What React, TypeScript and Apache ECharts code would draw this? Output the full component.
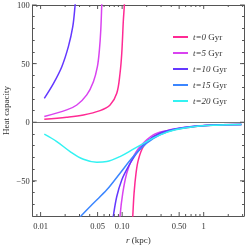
import React, { useEffect, useRef } from "react";
import * as echarts from "echarts";

const seriesNames = ["t=0 Gyr", "t=5 Gyr", "t=10 Gyr", "t=15 Gyr", "t=20 Gyr"];
const seriesColors = ["#FF2A94", "#D943F0", "#6438FF", "#3B86FF", "#33F2F2"];

// t = 0 Gyr
const t0PosR = [0.0111, 0.0209, 0.0335, 0.0536, 0.0711, 0.0859, 0.0942, 0.0989, 0.1035, 0.1064, 0.108];
const t0PosC = [2.6, 4.3, 6.2, 9.9, 14.7, 24.7, 41.8, 58.8, 87.2, 100, 115];
const t0NegR = [0.131, 0.135, 0.14, 0.148, 0.158, 0.182, 0.241, 0.352, 0.562, 0.901, 1.44, 2.9];
const t0NegC = [-95, -79.9, -60.5, -43.5, -32.1, -20.8, -12.3, -8.0, -5.1, -3.2, -2.3, -2.0];

// t = 5 Gyr
const t5PosR = [0.0111, 0.0209, 0.0278, 0.0368, 0.0444, 0.0497, 0.0526, 0.0547, 0.0562, 0.0575];
const t5PosC = [4.8, 10.5, 14.7, 23.3, 34.6, 47.4, 61.6, 78.7, 100, 120];
const t5NegR = [0.092, 0.0942, 0.1017, 0.1138, 0.131, 0.166, 0.241, 0.352, 0.562, 0.901, 1.44, 2.9];
const t5NegC = [-95, -80, -60.5, -43.5, -32.1, -20.8, -10.8, -7.2, -4.6, -3.0, -2.3, -2.0];

// t = 10 Gyr
const t10PosR = [0.0111, 0.0144, 0.0182, 0.0219, 0.0248, 0.0265, 0.0272];
const t10PosC = [20.4, 33.2, 47.4, 64.5, 81.5, 100, 110];
const t10NegR = [0.075, 0.078, 0.0859, 0.0989, 0.119, 0.151, 0.2, 0.291, 0.45, 0.8, 1.44, 2.9];
const t10NegC = [-90, -80, -63.4, -49.2, -37.9, -26.4, -16.5, -9.4, -5.8, -3.4, -2.3, -2.0];

// t = 15 Gyr
const t15R = [0.03, 0.0313, 0.0444, 0.0648, 0.0942, 0.137, 0.2, 0.291, 0.45, 0.8, 1.44, 2.9];
const t15C = [-82, -80, -69.1, -57.7, -43.5, -29.3, -17.9, -10.8, -6.0, -3.4, -2.3, -2.0];

// t = 20 Gyr
const t20R = [0.0111, 0.0158, 0.023, 0.0335, 0.0488, 0.0648, 0.094, 0.137, 0.2, 0.291, 0.45, 0.8, 1.44, 2.9];
const t20C = [-10.2, -16.5, -25, -31.6, -34.1, -33.6, -29.3, -23, -16.5, -10.8, -6.5, -3.6, -2.5, -2.0];

const xMajorTicks = [0.01, 0.05, 0.1, 0.5, 1];
const xMajorLabels = ["0.01", "0.05", "0.10", "0.50", "1"];
const xMinorTicks = [0.009, 0.02, 0.03, 0.04, 0.06, 0.07, 0.08, 0.09, 0.2, 0.3, 0.4, 0.6, 0.7, 0.8, 0.9, 2, 3];
const yMajorTicks = [100, 50, 0, -50];

const SERIF = "Liberation Serif";
const AXIS_COLOR = "#555";
const LABEL_COLOR = "#333";

function pairs(r: number[], c: number[]) {
  return r.map((v, i) => [v, c[i]]);
}

export default function App() {
  const ref = useRef<HTMLDivElement>(null);
  useEffect(() => {
    if (!ref.current) return;
    const chart = echarts.init(ref.current, null, { renderer: "svg" });
    const branches: [number, number[], number[]][] = [
      [0, t0PosR, t0PosC], [0, t0NegR, t0NegC],
      [1, t5PosR, t5PosC], [1, t5NegR, t5NegC],
      [2, t10PosR, t10PosC], [2, t10NegR, t10NegC],
      [3, t15R, t15C],
      [4, t20R, t20C],
    ];
    const series: any[] = branches.map(([k, r, c]) => ({
      type: "line",
      name: seriesNames[k],
      data: pairs(r, c),
      color: seriesColors[k],
      showSymbol: false,
      smooth: 0.35,
      lineStyle: { width: 1.5, color: seriesColors[k] },
      clip: true,
      z: 3,
    }));
    series[0].markLine = {
      silent: true,
      symbol: ["none", "none"],
      label: { show: false },
      lineStyle: { color: "#777", width: 1, type: "solid" },
      data: [{ yAxis: 0 }],
      z: 1,
    };
    const logAxisBase = {
      type: "log",
      min: 0.008,
      max: 3.12,
      logBase: 10,
      axisLine: { show: true, onZero: false, lineStyle: { color: AXIS_COLOR, width: 1 } },
      axisTick: { show: false },
      axisLabel: { show: false },
      splitLine: { show: false },
    };
    const yAxisBase = {
      type: "value",
      min: -80,
      max: 100,
      interval: 10,
      axisLine: { show: true, onZero: false, lineStyle: { color: AXIS_COLOR, width: 1 } },
      axisTick: { show: true, inside: true, length: 2, lineStyle: { color: AXIS_COLOR } },
      splitLine: { show: false },
    };
    chart.setOption({
      animation: false,
      grid: { left: 32.7, right: 1, top: 5, bottom: 29, containLabel: false, outerBoundsMode: "none" },
      xAxis: [
        {
          ...logAxisBase,
          position: "bottom",
          name: "{i|r} (kpc)",
          nameLocation: "middle",
          nameGap: 19,
          nameMoveOverlap: false,
          nameTextStyle: {
            fontFamily: SERIF,
            fontSize: 9,
            color: LABEL_COLOR,
            rich: {
              i: { fontFamily: SERIF, fontSize: 9, fontStyle: "italic", color: LABEL_COLOR },
            },
          },
        },
        { ...logAxisBase, position: "top" },
      ],
      yAxis: [
        {
          ...yAxisBase,
          position: "left",
          name: "Heat capacity",
          nameLocation: "middle",
          nameGap: 22,
          nameMoveOverlap: false,
          nameTextStyle: { fontFamily: SERIF, fontSize: 9, color: LABEL_COLOR },
          axisLabel: {
            show: true,
            margin: 3,
            fontFamily: SERIF,
            fontSize: 8.5,
            color: LABEL_COLOR,
            formatter: (v: number) =>
              v % 50 === 0 ? (v < 0 ? "\u2212" + Math.abs(v) : String(v)) : "",
          },
        },
        { ...yAxisBase, position: "right", axisLabel: { show: false } },
      ],
      legend: {
        orient: "vertical",
        left: 168,
        top: 26,
        icon: "rect",
        itemWidth: 15,
        itemHeight: 2,
        itemGap: 4,
        data: seriesNames,
        formatter: (name: string) => {
          const [t, u] = name.split(" ");
          return `{i|${t}} {n|${u}}`;
        },
        textStyle: {
          fontFamily: SERIF,
          fontSize: 9,
          color: LABEL_COLOR,
          lineHeight: 12,
          rich: {
            i: { fontFamily: SERIF, fontSize: 9, fontStyle: "italic", color: LABEL_COLOR, lineHeight: 12 },
            n: { fontFamily: SERIF, fontSize: 9, color: LABEL_COLOR, lineHeight: 12 },
          },
        },
      },
      series,
    });

    const top = 5;
    const bottom = 245 - 29;
    const left = 32.7;
    const right = 245 - 1;
    const graphics: any[] = [];
    const tickStyle = { stroke: AXIS_COLOR, lineWidth: 1 };
    const xTick = (v: number, len: number) => {
      const px = chart.convertToPixel({ xAxisIndex: 0 }, v) as number;
      if (px < left || px > right) return;
      graphics.push({ type: "line", silent: true, z: 5, shape: { x1: px, y1: bottom, x2: px, y2: bottom - len }, style: tickStyle });
      graphics.push({ type: "line", silent: true, z: 5, shape: { x1: px, y1: top, x2: px, y2: top + len }, style: tickStyle });
    };
    xMajorTicks.forEach((v) => xTick(v, 4));
    xMinorTicks.forEach((v) => xTick(v, 2));
    xMajorTicks.forEach((v, i) => {
      const px = chart.convertToPixel({ xAxisIndex: 0 }, v) as number;
      graphics.push({
        type: "text",
        silent: true,
        x: px,
        y: bottom + 5.5,
        style: {
          text: xMajorLabels[i],
          fontFamily: SERIF,
          fontSize: 8.5,
          fill: LABEL_COLOR,
          align: "center",
          verticalAlign: "top",
        },
      });
    });
    yMajorTicks.forEach((v) => {
      const py = chart.convertToPixel({ yAxisIndex: 0 }, v) as number;
      graphics.push({ type: "line", silent: true, z: 5, shape: { x1: left, y1: py, x2: left + 4, y2: py }, style: tickStyle });
      graphics.push({ type: "line", silent: true, z: 5, shape: { x1: right, y1: py, x2: right - 4, y2: py }, style: tickStyle });
    });
    chart.setOption({ graphic: graphics });

    return () => chart.dispose();
  }, []);
  return (
    <div
      ref={ref}
      style={{ position: "fixed", left: 0, top: 0, width: 245, height: 245 }}
    />
  );
}
